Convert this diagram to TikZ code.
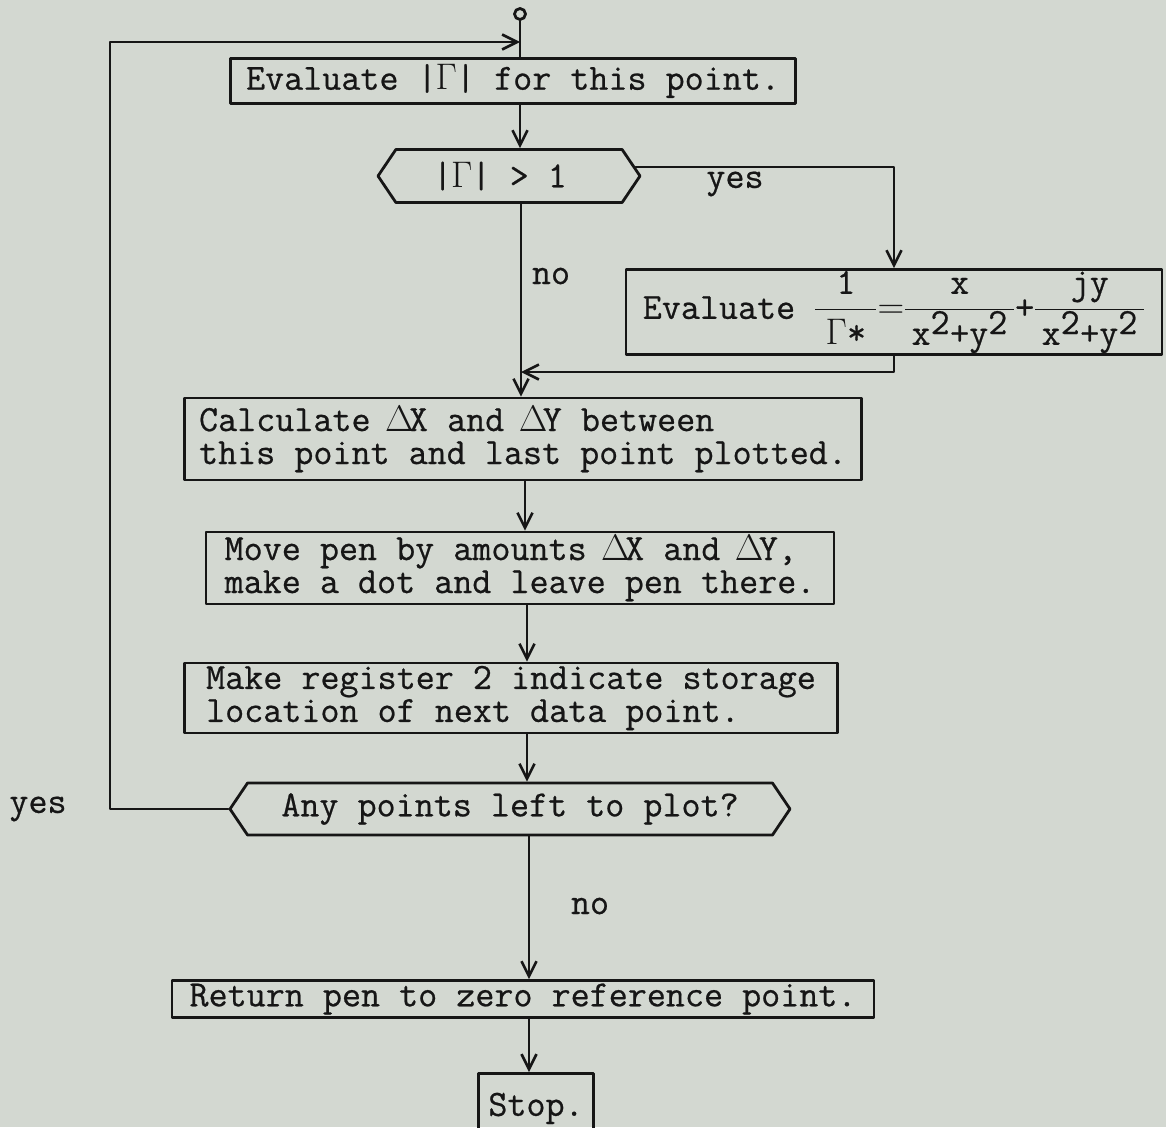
\documentclass[tikz,border=0pt]{standalone}
\usepackage{fix-cm}
\usepackage{fontspec}
\setmonofont[FakeBold=0.6]{Latin Modern Mono}
\usetikzlibrary{arrows.meta, positioning, calc, shapes.symbols}

\definecolor{paper}{RGB}{211,216,209}
\definecolor{ink}{RGB}{22,22,22}

% one typewriter cell for a Greek capital
\newcommand{\cellGamma}{\makebox[0.525em]{$\Gamma$}}
\newcommand{\cellDelta}{\makebox[0.525em]{$\Delta$}}
\newcommand{\sqsum}{\texttt{x}^{\texttt{2}}{\texttt{+}}\texttt{y}^{\texttt{2}}}

\tikzset{
    every node/.style={font=\ttfamily\fontsize{37}{33}\selectfont, text=ink},
    stepbox/.style={draw=ink, line width=2.8pt, rectangle, inner sep=0pt},
    testbox/.style={draw=ink, line width=2.8pt, signal, signal to=west and east,
        signal pointer angle=112, inner sep=0pt},
    flow/.style={draw=ink, line width=2.6pt, -{Straight Barb[length=15pt, width=15pt, line width=2.6pt]}},
    link/.style={draw=ink, line width=2.6pt}
}

\begin{document}
\begin{tikzpicture}[x=1pt, y=-1pt, line cap=round, line join=round]
    % Page
    \fill[paper] (0,0) rectangle (1166,1127);
    \useasboundingbox (0,0) rectangle (1166,1127);

    % Entry point
    \node[draw=ink, line width=2.8pt, circle, minimum size=11pt, inner sep=0pt] (start) at (520,14) {};
    \coordinate (join) at (520,42);
    \coordinate (loopleft) at (110,42);
    \coordinate (merge) at (521,372);

    % Boxes
    \node[stepbox, minimum width=565pt, minimum height=45pt] (evalgamma) at (513,81)
        {Evaluate |\cellGamma| for this point.};
    \node[testbox, minimum width=262pt, minimum height=53pt] (bigtest) at (509,176)
        {\hspace*{-18pt}|\cellGamma| > 1};
    \node[stepbox, minimum width=536pt, minimum height=85pt] (evalinv) at (894,312)
        {Evaluate $\displaystyle\frac{\texttt{1}}{\;\Gamma\texttt{*}\;}
        {=}\frac{\texttt{x}}{\,\sqsum\,}
        {\texttt{+}}\frac{\texttt{jy}}{\,\sqsum\,}$};
    \node[stepbox, minimum width=677pt, minimum height=82pt, align=left] (deltas) at (523,439)
        {Calculate \cellDelta X and \cellDelta Y between\\this point and last point plotted.};
    \node[stepbox, minimum width=628pt, minimum height=72pt, align=left] (movepen) at (520,568)
        {Move pen by amounts \cellDelta X and \cellDelta Y,\\make a dot and leave pen there.};
    \node[stepbox, minimum width=653pt, minimum height=70pt, align=left] (register) at (511,698)
        {Make register 2 indicate storage\\location of next data point.};
    \node[testbox, minimum width=560pt, minimum height=52pt] (moretest) at (510,809)
        {Any points left to plot?};
    \node[stepbox, minimum width=702pt, minimum height=37pt] (returnpen) at (523,999)
        {Return pen to zero reference point.};
    \node[stepbox, minimum width=115pt, minimum height=70pt, anchor=north] (stop) at (536,1072)
        {\raisebox{-4pt}{Stop.}};

    % Labels
    \node (yesa) at (735,184) {yes};
    \node (noa) at (551,276) {no};
    \node (yesb) at (38,809) {yes};
    \node (nob) at (590,906) {no};

    % Connectors
    \draw[link] (start.south) -- (start.south |- evalgamma.north);
    \draw[flow] (moretest.west) -| (loopleft) -- (join);
    \draw[flow] (evalgamma.south -| start) -- (bigtest.north -| start);
    \draw[flow] (bigtest.4) -| (evalinv.north);
    \draw[flow] (bigtest.south -| merge) -- (deltas.north -| merge);
    \draw[flow] (evalinv.south) |- (merge);
    \draw[flow] (deltas.south -| 525,0) -- (movepen.north -| 525,0);
    \draw[flow] (movepen.south -| 527,0) -- (register.north -| 527,0);
    \draw[flow] (register.south -| 527,0) -- (moretest.north -| 527,0);
    \draw[flow] (moretest.south -| 529,0) -- (returnpen.north -| 529,0);
    \draw[flow] (returnpen.south -| 529,0) -- (stop.north -| 529,0);
\end{tikzpicture}
\end{document}
